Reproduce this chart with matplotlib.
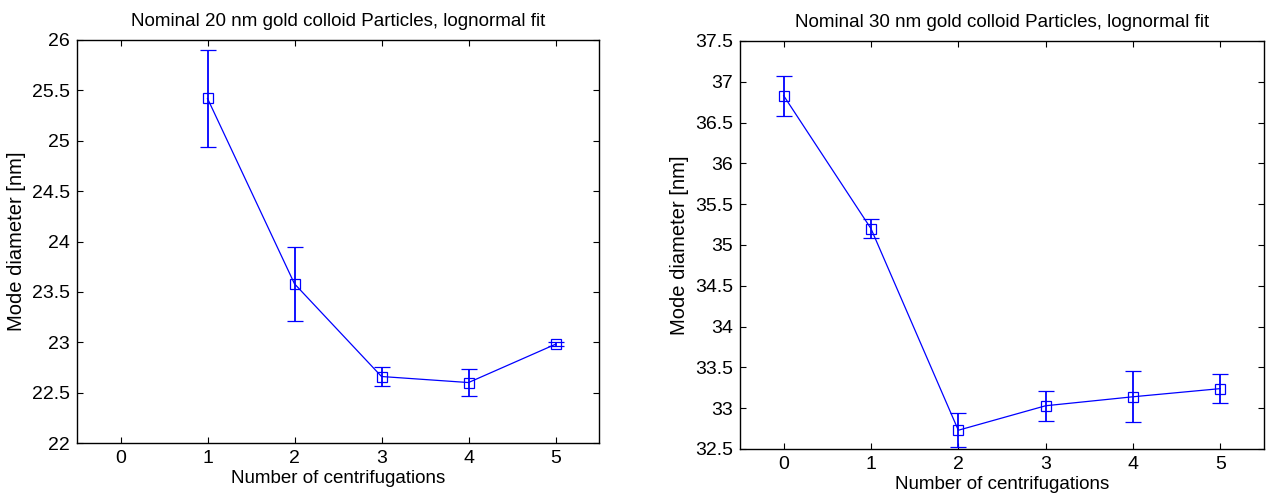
import numpy as np
import matplotlib
matplotlib.use("Agg")
import matplotlib.pyplot as plt

plt.rcParams['font.family'] = ['Liberation Sans', 'DejaVu Sans']

# nominal 20 nm
x20 = [1, 2, 3, 4, 5]
d20 = [25.42, 23.58, 22.66, 22.60, 22.98]
e20 = [0.48, 0.365, 0.09, 0.135, 0.02]

# nominal 30 nm
x30 = [0, 1, 2, 3, 4, 5]
d30 = [36.83, 35.20, 32.73, 33.03, 33.14, 33.24]
e30 = [0.245, 0.12, 0.21, 0.185, 0.315, 0.175]

xticks = [0, 1, 2, 3, 4, 5]
yticks20 = [22, 22.5, 23, 23.5, 24, 24.5, 25, 25.5, 26]
yticks30 = [32.5, 33, 33.5, 34, 34.5, 35, 35.5, 36, 36.5, 37, 37.5]

fig = plt.figure(figsize=(12.66, 4.97), dpi=100)
ax1 = fig.add_axes([77/1266, 54/497, 522/1266, 403/497])
ax2 = fig.add_axes([740/1266, 48/497, 524/1266, 408/497])

blue = (0, 0, 1)
for ax, x, y, e, yt, title in [
        (ax1, x20, d20, e20, yticks20, 'Nominal 20 nm gold colloid Particles, lognormal fit'),
        (ax2, x30, d30, e30, yticks30, 'Nominal 30 nm gold colloid Particles, lognormal fit')]:
    ax.errorbar(x, y, yerr=e, color=blue, lw=0.9, elinewidth=1.3, capsize=6,
                capthick=1.3, marker='s', ms=7, mfc='none', mec=blue, mew=0.9)
    ax.set_xlim(-0.5, 5.5)
    ax.set_ylim(yt[0], yt[-1])
    ax.set_xticks(xticks)
    ax.set_yticks(yt)
    ax.set_yticklabels(['%g' % v for v in yt])
    ax.tick_params(direction='in', top=True, right=True, length=4, width=0.8,
                   labelsize=14, pad=5)
    for s in ax.spines.values():
        s.set_linewidth(1.0)
    ax.set_xlabel('Number of centrifugations', fontsize=13.5, labelpad=2)
    ax.set_ylabel('Mode diameter [nm]', fontsize=14.5, labelpad=4)
    ax.set_title(title, fontsize=13.5, pad=10)

plt.savefig('out.png', dpi=100)
